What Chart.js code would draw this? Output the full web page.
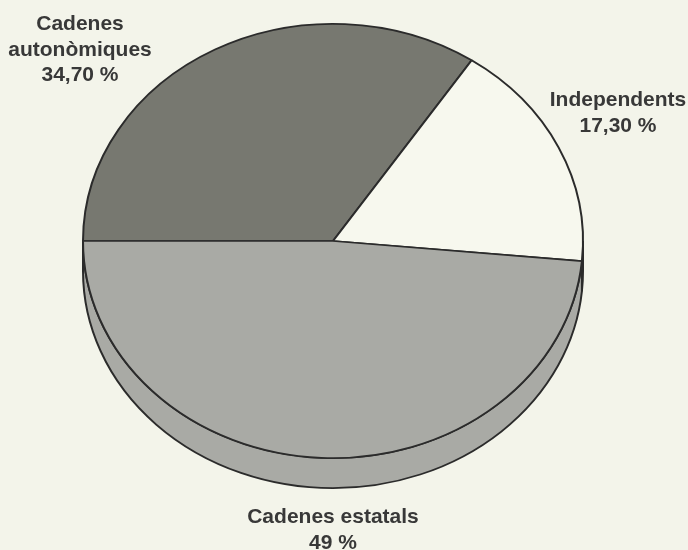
<!DOCTYPE html>
<html><head><meta charset="utf-8">
<script src="https://cdn.jsdelivr.net/npm/chart.js@4/dist/chart.umd.min.js"></script>
<style>html,body{margin:0;padding:0;background:#f3f4ea;overflow:hidden}canvas{display:block}</style>
</head><body>
<canvas id="c" width="688" height="550"></canvas>
<script>
// ---- data ----
const categories = ['Cadenes autonòmiques', 'Independents', 'Cadenes estatals'];
const labelLines = [['Cadenes', 'autonòmiques'], ['Independents'], ['Cadenes estatals']];
const shares = [34.70, 17.30, 49];

// ---- style / layout ----
const sliceColors = ['#777870', '#f7f8ee', '#a9aaa5'];
const PAGE_BG = '#f3f4ea';
const OUTLINE = '#2b2b2b';
const TEXT_COLOR = '#383838';
const TILT = 0.8685;   // vertical squash of the pie disc
const LIFT = -34;      // vertical shift of the disc (px)
const DEPTH = 30;      // thickness of the 3D rim (px)
const labelAnchors = [{x: 80, y: 30}, {x: 618, y: 106}, {x: 333, y: 523}];
const LINE_H = 25.5;
const FONT = 'bold 21px "Liberation Sans", Arial, Helvetica, sans-serif';

function fmt(v) {
  return (Number.isInteger(v) ? String(v) : v.toFixed(2).replace('.', ',')) + ' %';
}

const tiltPlugin = {
  id: 'tilt3d',
  beforeDraw(chart) {
    const ctx = chart.ctx;
    ctx.save();
    ctx.fillStyle = PAGE_BG;
    ctx.fillRect(0, 0, chart.width, chart.height);
    ctx.restore();
  },
  beforeDatasetsDraw(chart) {
    const ctx = chart.ctx;
    const meta = chart.getDatasetMeta(0);
    const first = meta.data[0];
    const cx = first.x, cy = first.y;
    ctx.save();
    ctx.translate(cx, cy + LIFT);
    ctx.scale(1, TILT);
    ctx.translate(-cx, -cy);
    const d = DEPTH / TILT;
    meta.data.forEach((arc, i) => {
      const p = arc.getProps(['startAngle', 'endAngle', 'outerRadius'], true);
      for (let k = -1; k <= 3; k++) {
        const lo = Math.max(p.startAngle, 2 * Math.PI * k);
        const hi = Math.min(p.endAngle, 2 * Math.PI * k + Math.PI);
        if (hi > lo) {
          ctx.beginPath();
          ctx.arc(cx, cy, p.outerRadius, lo, hi, false);
          ctx.arc(cx, cy + d, p.outerRadius, hi, lo, true);
          ctx.closePath();
          ctx.fillStyle = sliceColors[i];
          ctx.fill();
          ctx.lineWidth = 2;
          ctx.strokeStyle = OUTLINE;
          ctx.stroke();
        }
      }
    });
  },
  afterDatasetsDraw(chart) {
    chart.ctx.restore();
  },
  afterDraw(chart) {
    const ctx = chart.ctx;
    ctx.save();
    ctx.font = FONT;
    ctx.fillStyle = TEXT_COLOR;
    ctx.textAlign = 'center';
    ctx.textBaseline = 'alphabetic';
    labelLines.forEach((lines, i) => {
      const all = lines.concat([fmt(shares[i])]);
      all.forEach((t, j) => {
        ctx.fillText(t, labelAnchors[i].x, labelAnchors[i].y + j * LINE_H);
      });
    });
    ctx.restore();
  }
};

new Chart(document.getElementById('c'), {
  type: 'pie',
  data: {
    labels: categories,
    datasets: [{
      data: shares,
      backgroundColor: sliceColors,
      borderColor: OUTLINE,
      borderWidth: 2,
      clip: false
    }]
  },
  options: {
    responsive: false,
    animation: false,
    rotation: 270,
    layout: {padding: {left: 82, right: 104, top: 0, bottom: 0}},
    plugins: {legend: {display: false}, tooltip: {enabled: false}, title: {display: false}}
  },
  plugins: [tiltPlugin]
});
</script>
</body></html>
